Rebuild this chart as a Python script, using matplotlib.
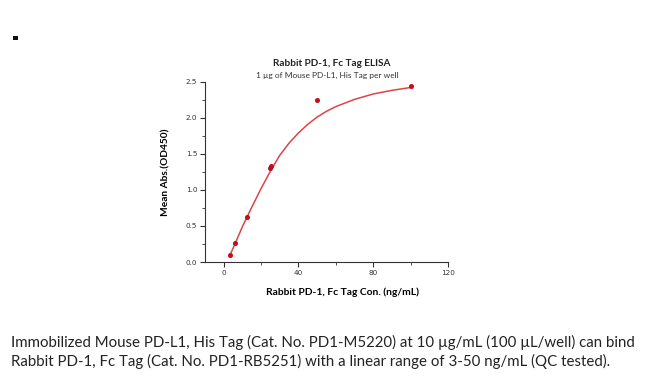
import matplotlib

matplotlib.use("Agg")
import matplotlib.pyplot as plt
from matplotlib.patches import Rectangle
from matplotlib.ticker import MultipleLocator

# Pontos medidos (ng/mL, OD450)
conc = [3.125, 6.25, 12.5, 25, 25.5, 50, 100]
od450 = [0.10, 0.26, 0.63, 1.31, 1.33, 2.24, 2.44]

# Curva ajustada
fit_x = [3.1, 6, 10, 15, 20, 25, 30, 35, 40, 45, 50, 55, 60, 70, 80, 90, 100]
fit_y = [0.08, 0.25, 0.49, 0.76, 1.02, 1.26, 1.48, 1.65, 1.79, 1.91, 2.01,
         2.09, 2.155, 2.255, 2.33, 2.38, 2.42]

x_ticks = [0, 40, 80, 120]
y_ticks = [0.0, 0.5, 1.0, 1.5, 2.0, 2.5]

caption = ("Immobilized Mouse PD-L1, His Tag (Cat. No. PD1-M5220) at 10 \u00b5g/mL (100 \u00b5L/well) can bind\n"
           "Rabbit PD-1, Fc Tag (Cat. No. PD1-RB5251) with a linear range of 3-50 ng/mL (QC tested).")

plt.rcParams["font.family"] = ["Lato", "DejaVu Sans"]

fig = plt.figure(figsize=(6.5, 3.76), dpi=100)
ax = fig.add_axes([0.3154, 0.303, 0.3738, 0.4797])

ax.plot(fit_x, fit_y, color="#dc4446", lw=1.1, zorder=2)
ax.plot(conc, od450, "o", color="#c0101e", ms=2.6, zorder=3)

ax.set_xlim(-10, 120)
ax.set_ylim(0, 2.5)
ax.set_xticks(x_ticks)
ax.set_yticks(y_ticks)
ax.set_yticklabels([f"{v:.1f}" for v in y_ticks])
ax.xaxis.set_minor_locator(MultipleLocator(20))
ax.yaxis.set_minor_locator(MultipleLocator(0.25))
ax.tick_params(which="major", length=3.5, width=0.8, colors="#333333", pad=2)
ax.tick_params(which="minor", length=2, width=0.6, colors="#333333")
for s in ("top", "right"):
    ax.spines[s].set_visible(False)
for s in ("left", "bottom"):
    ax.spines[s].set_linewidth(0.8)
    ax.spines[s].set_color("#333333")
for lbl in ax.get_xticklabels() + ax.get_yticklabels():
    lbl.set_family(["DejaVu Sans"])
    lbl.set_fontsize(5.2)

ax.set_xlabel("Rabbit PD-1, Fc Tag Con. (ng/mL)", fontsize=7.4, fontweight="bold", labelpad=9)
ax.xaxis.set_label_coords(0.565, -0.14)
ax.set_ylabel("Mean Abs.(OD450)", fontsize=7.3, fontweight="bold", labelpad=11)

fig.text(0.511, 0.83, "Rabbit PD-1, Fc Tag ELISA", ha="center", va="center",
         fontsize=7.2, fontweight="bold", color="#222222")
fig.text(0.503, 0.80, "1 \u00b5g of Mouse PD-L1, His Tag per well", ha="center", va="center",
         fontsize=6, color="#333333")

fig.text(0.017, 0.063, caption, ha="left", va="center", fontsize=10.8,
         color="#222222", linespacing=1.35)

# ponto isolado no canto superior esquerdo
fig.add_artist(Rectangle((0.020, 0.893), 0.007, 0.012, transform=fig.transFigure,
                         facecolor="#111111", edgecolor="none"))

fig.savefig("out.png", dpi=100, facecolor="white")
